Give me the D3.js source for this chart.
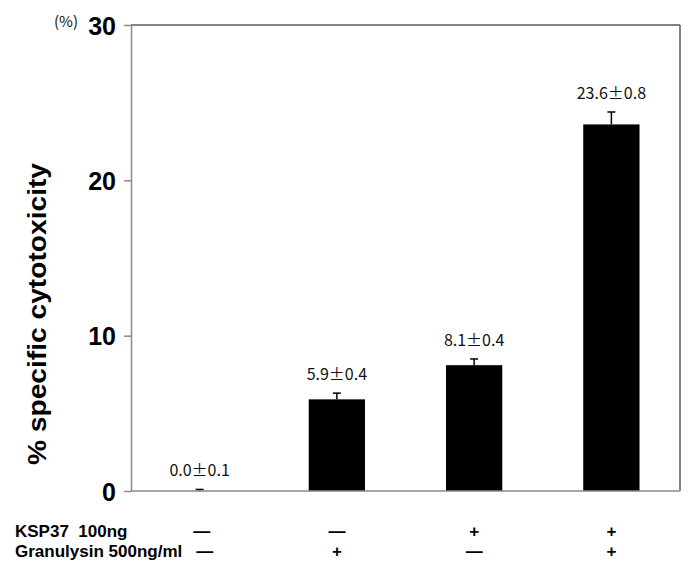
<!DOCTYPE html>
<html>
<head>
<meta charset="utf-8">
<script src="https://cdn.jsdelivr.net/npm/d3@7"></script>
<style>
html,body{margin:0;padding:0;background:#fff;}
svg{display:block;}
</style>
</head>
<body>
<svg id="chart" width="700" height="583"></svg>
<script>
// ---- data ----
const categories = ["ctrl", "granulysin", "ksp37", "ksp37+granulysin"];
const values = [0.0, 5.9, 8.1, 23.6];
const errors = [0.1, 0.4, 0.4, 0.8];
const ksp37Row = ["\u2014", "\u2014", "+", "+"];
const granulysinRow = ["\u2014", "+", "\u2014", "+"];
const yTicks = [0, 10, 20, 30];
const rowLabels = ["KSP37\u00a0\u00a0100ng", "Granulysin 500ng/ml"];
const yTitle = "% specific cytotoxicity";
const unitLabel = "(%)";

// ---- layout ----
const svg = d3.select("#chart");
const mLeft = 131, mRight = 680, mTop = 25, mBottom = 491;

const x = d3.scaleBand().domain(categories).range([mLeft, mRight])
  .paddingInner(0.59).paddingOuter(0.295);
const y = d3.scaleLinear().domain([0, 30]).range([mBottom, mTop]);

const arial = "'Liberation Sans', Arial, sans-serif";
const jp = "'Noto Sans CJK JP', 'Noto Sans', sans-serif";

// frame top and right
svg.append("line").attr("x1", mLeft).attr("x2", mRight).attr("y1", y(30)).attr("y2", y(30))
  .attr("stroke", "#5a5a5a").attr("stroke-width", 1.5);
svg.append("line").attr("x1", mRight).attr("x2", mRight).attr("y1", y(30)).attr("y2", y(0))
  .attr("stroke", "#5a5a5a").attr("stroke-width", 1.5);

// bars
svg.append("g").selectAll("rect").data(categories).join("rect")
  .attr("x", d => x(d))
  .attr("width", x.bandwidth())
  .attr("y", (d, i) => y(values[i]))
  .attr("height", (d, i) => y(0) - y(values[i]))
  .attr("fill", "#000");

// error bars (upper only)
const eg = svg.append("g").attr("stroke", "#000").attr("stroke-width", 1.5);
categories.forEach((c, i) => {
  const cx = x(c) + x.bandwidth() / 2;
  eg.append("line").attr("x1", cx).attr("x2", cx)
    .attr("y1", y(values[i])).attr("y2", y(values[i] + errors[i]));
  eg.append("line").attr("x1", cx - 4).attr("x2", cx + 4)
    .attr("y1", y(values[i] + errors[i])).attr("y2", y(values[i] + errors[i]));
});

// value labels
const fmt = d3.format(".1f");
svg.append("g").selectAll("text").data(categories).join("text")
  .attr("x", d => x(d) + x.bandwidth() / 2)
  .attr("y", (d, i) => y(values[i] + errors[i]) - 13)
  .attr("text-anchor", "middle")
  .attr("font-family", jp)
  .attr("font-size", 16)
  .attr("fill", "#111")
  .text((d, i) => fmt(values[i]) + "\u00b1" + fmt(errors[i]));

// y axis
const yAxis = d3.axisLeft(y).tickValues(yTicks).tickSize(7).tickSizeOuter(0).tickPadding(8);
const ga = svg.append("g").attr("transform", `translate(${mLeft},0)`).call(yAxis);
ga.select(".domain").attr("stroke", "#8a8a8a").attr("stroke-width", 1.5);
ga.selectAll(".tick line").attr("stroke", "#8a8a8a").attr("stroke-width", 1.5);
ga.selectAll(".tick text").attr("font-family", arial).attr("font-weight", "bold")
  .attr("font-size", 25).attr("fill", "#000").attr("dy", "0.36em");

// bottom axis line
svg.append("line").attr("x1", mLeft).attr("x2", mRight).attr("y1", y(0)).attr("y2", y(0))
  .attr("stroke", "#8a8a8a").attr("stroke-width", 1.5);

// y title
svg.append("text")
  .attr("transform", "translate(46,314) rotate(-90)")
  .attr("text-anchor", "middle")
  .attr("font-family", arial).attr("font-weight", "bold").attr("font-size", 26)
  .attr("textLength", 302).attr("lengthAdjust", "spacingAndGlyphs")
  .text(yTitle);

// unit label
svg.append("text").attr("x", 54).attr("y", 27)
  .attr("font-family", jp).attr("font-size", 15).attr("fill", "#111")
  .text(unitLabel);

// condition rows
const rows = [ksp37Row, granulysinRow];
const rowY = [537, 557];
const symOffset = [[2, 0], [5, 0]];
rows.forEach((row, r) => {
  svg.append("text").attr("x", 15).attr("y", rowY[r])
    .attr("font-family", arial).attr("font-weight", "bold").attr("font-size", 17)
    .text(rowLabels[r]);
  svg.append("g").selectAll("text").data(categories).join("text")
    .attr("x", (d, i) => x(d) + x.bandwidth() / 2 + (i === 0 ? symOffset[r][0] : 0))
    .attr("y", rowY[r])
    .attr("text-anchor", "middle")
    .attr("font-family", arial).attr("font-weight", "bold").attr("font-size", 17)
    .text((d, i) => row[i]);
});
</script>
</body>
</html>
